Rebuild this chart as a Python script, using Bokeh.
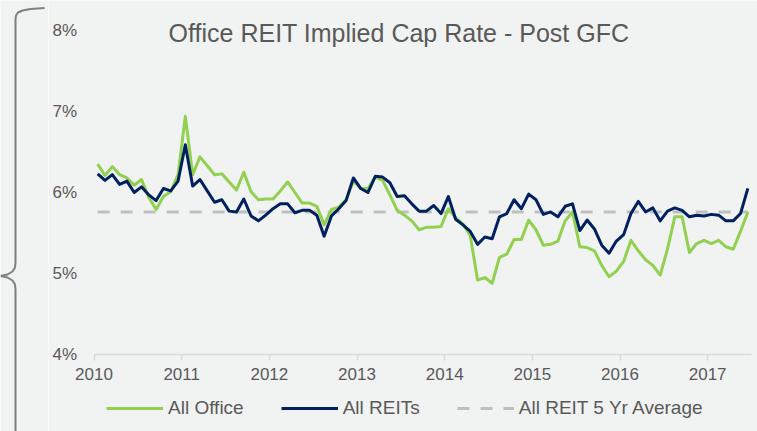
from bokeh.plotting import figure
from bokeh.models import Range1d, FixedTicker, PrintfTickFormatter, Legend, LegendItem, Label
from bokeh.layouts import row
from bokeh.embed import file_html
from bokeh.resources import INLINE

# ---------------- data (monthly, Jan 2010 - Jun 2017) ----------------
start_year = 2010
office = [6.35, 6.21, 6.32, 6.22, 6.18, 6.09, 6.16, 5.94, 5.79, 5.95,
          6.01, 6.22, 6.94, 6.22, 6.44, 6.33, 6.22, 6.23, 6.13, 6.03,
          6.25, 6.01, 5.91, 5.92, 5.92, 6.02, 6.13, 6.00, 5.87, 5.87,
          5.83, 5.60, 5.79, 5.82, 5.91, 6.14, 6.05, 6.05, 6.19, 6.15,
          5.97, 5.78, 5.72, 5.65, 5.54, 5.57, 5.57, 5.58, 5.80, 5.69,
          5.61, 5.47, 4.92, 4.95, 4.88, 5.20, 5.24, 5.42, 5.42, 5.66,
          5.54, 5.35, 5.36, 5.40, 5.65, 5.76, 5.33, 5.32, 5.28, 5.10,
          4.96, 5.03, 5.15, 5.41, 5.28, 5.17, 5.10, 4.98, 5.30, 5.70,
          5.70, 5.26, 5.37, 5.41, 5.37, 5.41, 5.33, 5.30, 5.52, 5.76]
reits = [6.23, 6.15, 6.22, 6.10, 6.14, 6.00, 6.07, 5.97, 5.90, 6.05,
         6.02, 6.14, 6.59, 6.08, 6.16, 6.02, 5.88, 5.91, 5.77, 5.76,
         5.92, 5.71, 5.65, 5.72, 5.80, 5.86, 5.86, 5.75, 5.78, 5.78,
         5.72, 5.46, 5.71, 5.80, 5.90, 6.18, 6.05, 6.00, 6.20, 6.19,
         6.12, 5.95, 5.96, 5.86, 5.77, 5.77, 5.84, 5.74, 5.95, 5.67,
         5.60, 5.52, 5.36, 5.45, 5.43, 5.70, 5.74, 5.91, 5.80, 5.98,
         5.91, 5.73, 5.76, 5.70, 5.83, 5.86, 5.53, 5.66, 5.55, 5.35,
         5.25, 5.40, 5.48, 5.74, 5.89, 5.76, 5.81, 5.65, 5.77, 5.81,
         5.78, 5.70, 5.72, 5.71, 5.73, 5.72, 5.65, 5.65, 5.74, 6.05]
avg_5yr = 5.76
year_ticks = [2010, 2011, 2012, 2013, 2014, 2015, 2016, 2017]
pct_ticks = [4, 5, 6, 7, 8]
series_names = ["All Office", "All REITs", "All REIT 5 Yr Average"]
title_text = "Office REIT Implied Cap Rate - Post GFC"

x = [start_year + (m + 0.5) / 12 for m in range(len(office))]

BG = "#F1F2F2"
FONT = "Liberation Sans"
TXT = "#595959"
GREEN = "#92D050"
NAVY = "#002060"
AVG = "#BFBFBF"
AXIS = "#D9D9D9"

# ---------------- main chart (frame fills the canvas, axes at fixed spots) ----------------
p = figure(width=709, height=431, title=None,
           x_range=Range1d(2009.4806, 2017.5685), y_range=Range1d(3.0494, 8.3704),
           output_backend="svg", toolbar_location=None, min_border=0)
p.background_fill_color = BG
p.border_fill_color = BG
p.outline_line_color = None
p.grid.visible = False

yax = p.yaxis[0]
yax.fixed_location = 2010
yax.ticker = FixedTicker(ticks=pct_ticks)
yax.formatter = PrintfTickFormatter(format="%d%%")
yax.axis_line_color = None
yax.major_tick_line_color = None
yax.minor_tick_line_color = None
yax.major_tick_out = 0
yax.major_tick_in = 0
yax.major_label_standoff = 17
yax.major_label_text_font = FONT
yax.major_label_text_font_size = "17px"
yax.major_label_text_color = TXT

xax = p.xaxis[0]
xax.fixed_location = 4
xax.bounds = (2010, 2017.5)
xax.ticker = FixedTicker(ticks=year_ticks)
xax.formatter = PrintfTickFormatter(format="%d")
xax.axis_line_color = AXIS
xax.axis_line_width = 1.5
xax.major_tick_line_color = AXIS
xax.major_tick_line_width = 1.5
xax.major_tick_out = 6
xax.major_tick_in = 0
xax.minor_tick_line_color = None
xax.major_label_standoff = 7
xax.major_label_text_font = FONT
xax.major_label_text_font_size = "17px"
xax.major_label_text_color = TXT

r_avg = p.line([x[0], x[-1]], [avg_5yr, avg_5yr], line_color=AVG, line_width=3, line_dash="12 11")
r_off = p.line(x, office, line_color=GREEN, line_width=3, line_join="round")
r_reit = p.line(x, reits, line_color=NAVY, line_width=3, line_join="round")

legend = Legend(items=[LegendItem(label=series_names[0], renderers=[r_off]),
                       LegendItem(label=series_names[1], renderers=[r_reit]),
                       LegendItem(label=series_names[2], renderers=[r_avg])],
                orientation="horizontal", location=(58, 12), padding=0, margin=0,
                spacing=37, glyph_width=57, glyph_height=20, label_height=20,
                label_standoff=5, background_fill_alpha=0, border_line_color=None,
                label_text_font=FONT, label_text_font_size="19px", label_text_color=TXT)
p.add_layout(legend)

p.add_layout(Label(x=2013.479, y=7.963, text=title_text,
                   text_align="center", text_baseline="alphabetic", text_font=FONT,
                   text_font_size="25px", text_color=TXT))

# ---------------- decorative brace on the left ----------------
b = figure(width=48, height=431, title=None, x_range=Range1d(0, 48), y_range=Range1d(431, 0),
           x_axis_type=None, y_axis_type=None, output_backend="svg", toolbar_location=None,
           min_border=0)
b.background_fill_color = BG
b.border_fill_color = BG
b.outline_line_color = None
bx = [44, 30, 22, 17.5, 15.5, 15, 15, 14.5, 12, 7, 0, 7, 12, 14.5, 15, 15]
by = [7.5, 8.5, 10, 12, 15, 19, 262, 267, 271, 274, 275.5, 277, 280, 284, 289, 440]
b.line(bx, by, line_color="#7F7F7F", line_width=2)

layout = row(b, p)
open("out.html", "w").write(file_html(layout, INLINE))
